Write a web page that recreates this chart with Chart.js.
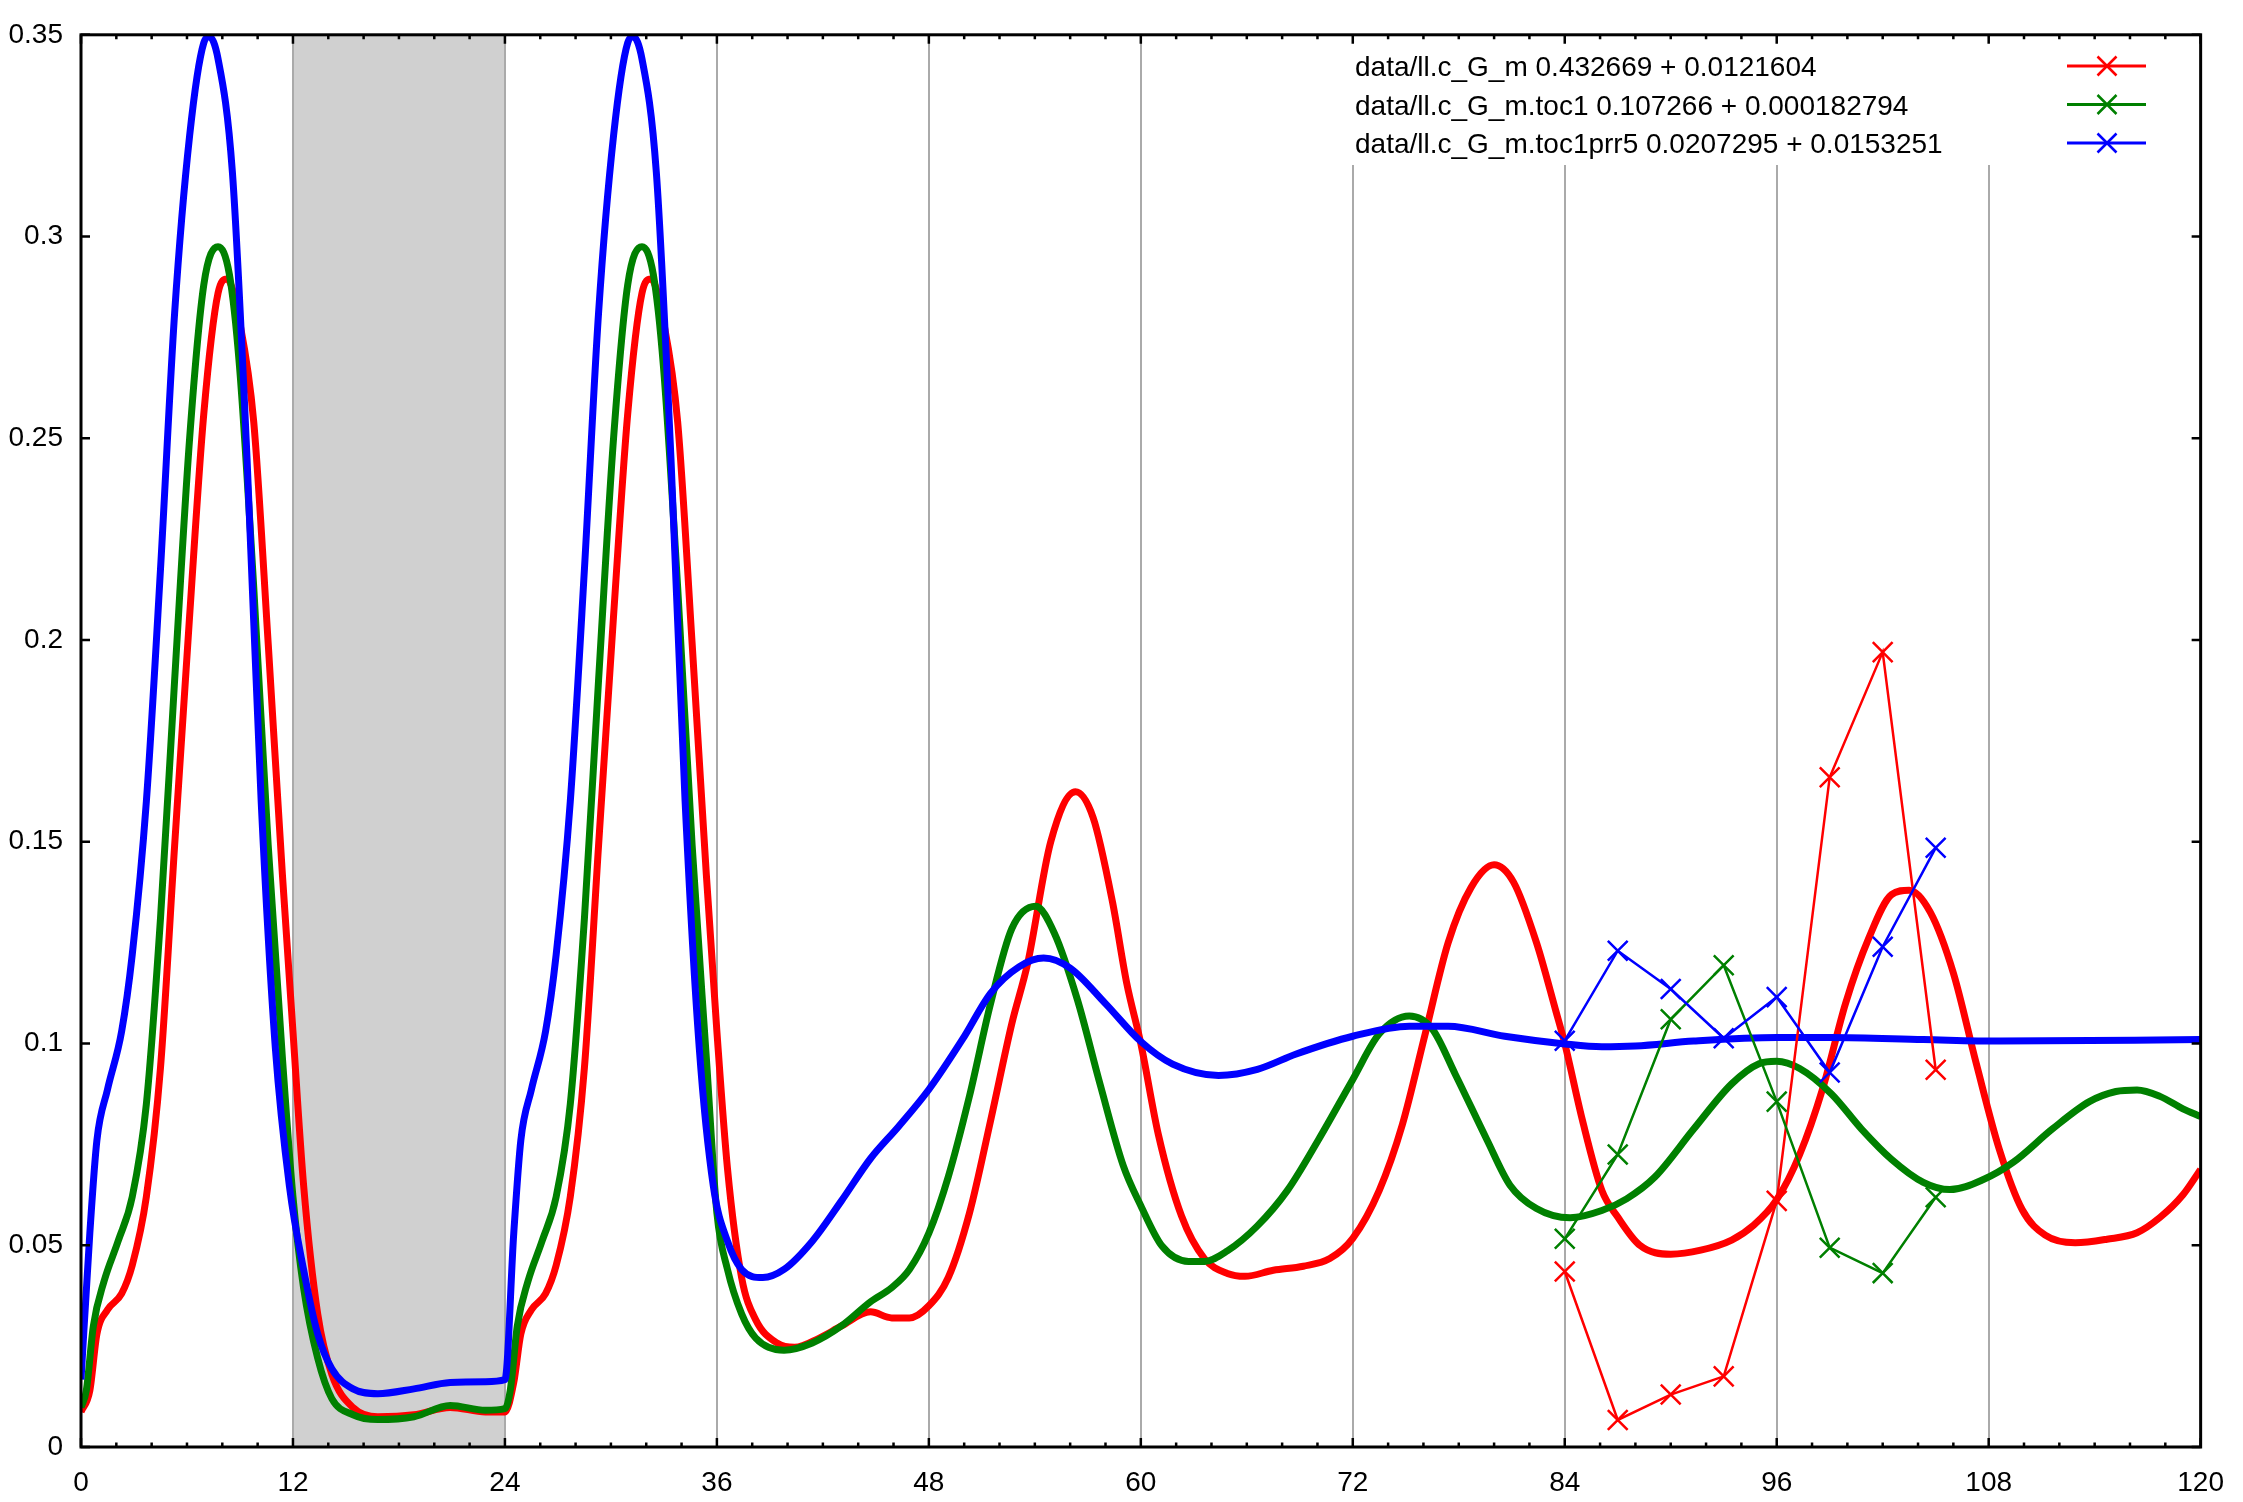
<!DOCTYPE html>
<html>
<head>
<meta charset="utf-8">
<script src="https://cdn.jsdelivr.net/npm/chart.js@4"></script>
<style>
  html, body { margin: 0; padding: 0; background: #fff; }
  #wrap { width: 2243px; height: 1502px; }
</style>
</head>
<body>
<div id="wrap"><canvas id="chart" width="2243" height="1502"></canvas></div>
<script>
// ---------- Data ----------
const redX = [0, 0.5, 0.9, 1.5, 2.3, 2.9, 3.7, 4.5, 5.3, 6.15, 6.95, 7.76, 8.27, 8.97, 9.78, 10.6, 11.4, 12, 12.6, 13.4, 14.2, 15.4, 16.8, 18.85, 20.9, 22.9, 24,
  24.5, 24.9, 25.5, 26.3, 26.9, 27.7, 28.5, 29.3, 30.15, 30.95, 31.76, 32.27, 32.97, 33.78, 34.6, 35.4, 36, 36.6, 37.4, 38.2, 39.4, 40.4, 41.8, 43.05, 44.7, 45.9, 46.9,
  48, 49.1, 50.3, 51.5, 52.7, 53.6, 54.9, 56.3, 57.3, 58.4, 59.2, 60, 61, 62.3, 63.6, 64.9, 65.9, 67.5, 69.2, 70.7, 72, 73.5, 74.8, 76.1, 77.4, 78.7, 80, 81.1, 82.4,
  83.5, 84, 85, 86.1, 87, 88.25, 90, 91.7, 93.45, 94.7, 96, 97.3, 98.6, 99.9, 101.2, 102.5, 103.5, 104.7, 106, 107.3, 108.6, 109.9, 111.2, 112.9, 114.7, 116.4,
  117.7, 119, 120];
const redY = [0.0087, 0.014, 0.028, 0.034, 0.038, 0.045, 0.062, 0.094, 0.149, 0.206, 0.256, 0.286, 0.2895, 0.279, 0.254, 0.199, 0.142, 0.103, 0.065, 0.033, 0.018, 0.0098, 0.0075, 0.008, 0.0098, 0.0087, 0.0087,
  0.016, 0.028, 0.034, 0.038, 0.045, 0.062, 0.094, 0.149, 0.206, 0.256, 0.286, 0.2895, 0.279, 0.254, 0.199, 0.142, 0.103, 0.069, 0.042, 0.0315, 0.0258, 0.0247, 0.027, 0.030, 0.0335, 0.032, 0.032,
  0.035, 0.042, 0.058, 0.081, 0.105, 0.120, 0.150, 0.1624, 0.156, 0.135, 0.115, 0.100, 0.0773, 0.0573, 0.0467, 0.043, 0.0423, 0.0438, 0.0448, 0.0467, 0.0517, 0.0636, 0.0798, 0.1024, 0.125, 0.1387, 0.1443, 0.140, 0.125,
  0.108, 0.100, 0.081, 0.0636, 0.057, 0.050, 0.0478, 0.0488, 0.0513, 0.055, 0.0613, 0.0725, 0.0888, 0.110, 0.126, 0.1369, 0.138, 0.1325, 0.1175, 0.095, 0.0738, 0.0588, 0.0525, 0.0506, 0.0515, 0.0531,
  0.0569, 0.0625, 0.0688];

const greenX = [0, 0.3, 0.7, 1.3, 2.1, 2.9, 3.7, 4.5, 5.3, 6.15, 6.95, 7.76, 8.4, 8.97, 9.78, 10.6, 11.4, 12, 12.6, 13.4, 14.2, 15.4, 16.8, 18.85, 20.9, 22.9, 24,
  24.3, 24.7, 25.3, 26.1, 26.9, 27.7, 28.5, 29.3, 30.15, 30.95, 31.76, 32.4, 32.97, 33.78, 34.6, 35.4, 36, 36.6, 37.4, 38.2, 39.8, 41.4, 43.05, 44.7, 45.9, 46.9,
  48, 49.1, 50.3, 51.5, 52.7, 54.05, 55.1, 56.4, 57.7, 59, 60, 61.2, 62.7, 63.6, 64.9, 66.6, 68.3, 70.05, 72, 73.5, 75.2, 76.5, 77.8, 79.6, 80.9, 82.4, 84.3,
  86.1, 87.5, 89.1, 91.3, 93.45, 95, 96, 97.3, 99.1, 100.8, 102.5, 104.3, 105.8, 107.7, 109.4, 111.6, 113.7, 115.2, 116.4, 117.7, 119, 120];
const greenY = [0.0098, 0.014, 0.030, 0.041, 0.051, 0.062, 0.085, 0.131, 0.190, 0.250, 0.288, 0.2975, 0.2906, 0.268, 0.213, 0.149, 0.0966, 0.062, 0.0395, 0.022, 0.012, 0.008, 0.0068, 0.0075, 0.0103, 0.0091, 0.0095,
  0.014, 0.030, 0.041, 0.051, 0.062, 0.085, 0.131, 0.190, 0.250, 0.288, 0.2975, 0.2906, 0.268, 0.213, 0.149, 0.0966, 0.058, 0.044, 0.033, 0.027, 0.024, 0.0258, 0.030, 0.036, 0.0395, 0.044,
  0.053, 0.067, 0.087, 0.110, 0.1285, 0.134, 0.1274, 0.111, 0.0898, 0.0698, 0.0598, 0.0498, 0.046, 0.046, 0.0486, 0.0548, 0.0636, 0.0761, 0.0911, 0.1024, 0.1068, 0.1036, 0.0924, 0.0761, 0.0649, 0.0591, 0.0568,
  0.0586, 0.0615, 0.0669, 0.0788, 0.090, 0.095, 0.0956, 0.0938, 0.0875, 0.0788, 0.0713, 0.0656, 0.0638, 0.0663, 0.0706, 0.0788, 0.0856, 0.0881, 0.0885, 0.0869, 0.0838, 0.0819];

const blueX = [0, 0.5, 0.9, 1.5, 2.3, 2.9, 3.7, 4.5, 5.3, 6.15, 6.95, 7.26, 7.76, 8.57, 9.4, 10.2, 11, 11.8, 12.6, 13.4, 14.2, 15.4, 16.8, 18.85, 20.9, 22.9, 24,
  24.5, 24.9, 25.5, 26.3, 26.9, 27.7, 28.5, 29.3, 30.15, 30.95, 31.26, 31.76, 32.57, 33.4, 34.2, 35, 35.8, 36.6, 37.4, 38.6, 39.8, 41.4, 43.05, 44.7, 46.3,
  48, 49.9, 51.5, 53.1, 54.5, 56, 58, 60, 61.8, 64.4, 66.6, 68.8, 72, 75.2, 77.4, 80.6, 84, 86.1, 88, 91.3, 96, 99.1, 104.3, 108.6, 120];
const blueY = [0.0167, 0.053, 0.076, 0.0886, 0.103, 0.122, 0.160, 0.2175, 0.281, 0.325, 0.348, 0.3495, 0.344, 0.316, 0.245, 0.160, 0.099, 0.0646, 0.044, 0.028, 0.0194, 0.0144, 0.0132, 0.0144, 0.016, 0.0162, 0.0167,
  0.053, 0.076, 0.0886, 0.103, 0.122, 0.160, 0.2175, 0.281, 0.325, 0.348, 0.3495, 0.344, 0.316, 0.245, 0.160, 0.099, 0.0646, 0.051, 0.044, 0.042, 0.044, 0.051, 0.061, 0.0715, 0.0795,
  0.0886, 0.101, 0.1125, 0.119, 0.1212, 0.1187, 0.1099, 0.1005, 0.0949, 0.0921, 0.0936, 0.0974, 0.1018, 0.1043, 0.1043, 0.1018, 0.0999, 0.0992, 0.0994, 0.1006, 0.1015, 0.1015, 0.101, 0.1006, 0.101];

// points with markers (thin lines)
const sampleX = [84, 87, 90, 93, 96, 99, 102, 105];
const redPts = [0.0435, 0.0067, 0.013, 0.0175, 0.061, 0.166, 0.197, 0.0935];
const greenPts = [0.0516, 0.0725, 0.106, 0.1194, 0.0856, 0.0494, 0.0431, 0.0619];
const bluePts = [0.1007, 0.123, 0.1135, 0.1013, 0.1115, 0.0928, 0.124, 0.1485];

const legendLabels = [
  "data/ll.c_G_m 0.432669 + 0.0121604",
  "data/ll.c_G_m.toc1 0.107266 + 0.000182794",
  "data/ll.c_G_m.toc1prr5 0.0207295 + 0.0153251"
];
const colors = ["#ff0000", "#008000", "#0000ff"];
const nightBand = [12, 24];
const gridHours = [12, 24, 36, 48, 60, 72, 84, 96, 108];

// ---------- Helpers ----------
const FONT = '"Liberation Sans", Arial, sans-serif';
const pts = (xs, ys) => xs.map((x, i) => ({ x, y: ys[i] }));

const thick = (label, xs, ys, color, order) => ({
  label, data: pts(xs, ys), borderColor: color, borderWidth: 7,
  pointRadius: 0, cubicInterpolationMode: "monotone", fill: false, order
});
const thin = (label, ys, color, order) => ({
  label, data: pts(sampleX, ys), borderColor: color, borderWidth: 2.5,
  pointStyle: "crossRot", pointRadius: 14, pointBorderWidth: 2.5,
  pointBorderColor: color, tension: 0, fill: false, order
});

// ---------- Plugin: band, frame, ticks, key ----------
const frame = {
  id: "frame",
  beforeDraw(chart) {
    const { ctx, chartArea: a, scales: { x } } = chart;
    ctx.save();
    ctx.fillStyle = "#fff";
    ctx.fillRect(0, 0, chart.width, chart.height);
    ctx.fillStyle = "#d0d0d0";
    const x0 = x.getPixelForValue(nightBand[0]), x1 = x.getPixelForValue(nightBand[1]);
    ctx.fillRect(x0, a.top, x1 - x0, a.bottom - a.top);
    ctx.restore();
  },
  afterDatasetsDraw(chart) {
    const { ctx, chartArea: a, scales: { x, y } } = chart;
    ctx.save();
    // key box
    ctx.fillStyle = "#fff";
    ctx.fillRect(1343, 43, 822, 122);
    ctx.font = `28px ${FONT}`;
    ctx.textBaseline = "alphabetic";
    ctx.textAlign = "left";
    legendLabels.forEach((t, i) => {
      const by = 76 + i * 38.5;
      ctx.fillStyle = "#000";
      ctx.fillText(t, 1355, by);
      const cy = by - 10;
      ctx.strokeStyle = colors[i];
      ctx.lineWidth = 3;
      ctx.beginPath(); ctx.moveTo(2067, cy); ctx.lineTo(2146, cy); ctx.stroke();
      ctx.lineWidth = 2.5;
      const r = 9.5;
      ctx.beginPath();
      ctx.moveTo(2107 - r, cy - r); ctx.lineTo(2107 + r, cy + r);
      ctx.moveTo(2107 + r, cy - r); ctx.lineTo(2107 - r, cy + r);
      ctx.stroke();
    });

    // tick marks
    ctx.strokeStyle = "#000";
    ctx.lineWidth = 2.5;
    ctx.beginPath();
    for (let v = 0; v <= 120; v += 2) {
      const px = x.getPixelForValue(v);
      const len = v % 12 === 0 ? 9 : 4.5;
      ctx.moveTo(px, a.bottom); ctx.lineTo(px, a.bottom - len);
      ctx.moveTo(px, a.top); ctx.lineTo(px, a.top + len);
    }
    y.ticks.forEach(t => {
      const py = y.getPixelForValue(t.value);
      ctx.moveTo(a.left, py); ctx.lineTo(a.left + 9, py);
      ctx.moveTo(a.right, py); ctx.lineTo(a.right - 9, py);
    });
    ctx.stroke();

    // frame
    ctx.lineWidth = 3;
    ctx.strokeRect(a.left, a.top, a.right - a.left, a.bottom - a.top);
    ctx.restore();
  }
};

// ---------- Chart ----------
new Chart(document.getElementById("chart"), {
  type: "line",
  data: {
    datasets: [
      thick(legendLabels[0], redX, redY, colors[0], 6),
      thick(legendLabels[1], greenX, greenY, colors[1], 5),
      thick(legendLabels[2], blueX, blueY, colors[2], 4),
      thin(legendLabels[0] + " pts", redPts, colors[0], 3),
      thin(legendLabels[1] + " pts", greenPts, colors[1], 2),
      thin(legendLabels[2] + " pts", bluePts, colors[2], 1)
    ]
  },
  options: {
    responsive: false,
    animation: false,
    devicePixelRatio: 1,
    layout: { padding: { top: 20, right: 39, left: 0, bottom: 0 } },
    plugins: { legend: { display: false }, tooltip: { enabled: false } },
    scales: {
      x: {
        type: "linear", min: 0, max: 120,
        border: { display: false },
        grid: {
          drawTicks: false, lineWidth: 2,
          color: c => gridHours.includes(c.tick.value) ? "#aaaaaa" : "rgba(0,0,0,0)"
        },
        ticks: {
          stepSize: 12, autoSkip: false, maxRotation: 0, padding: 19,
          color: "#000", font: { family: FONT, size: 28 }
        },
        afterFit: s => { s.height = 55; }
      },
      y: {
        min: 0, max: 0.35,
        border: { display: false },
        grid: { display: false, drawTicks: false },
        ticks: {
          stepSize: 0.05, padding: 18, color: "#000",
          font: { family: FONT, size: 28 },
          callback: v => String(+v.toFixed(2))
        },
        afterFit: s => { s.width = 81; }
      }
    }
  },
  plugins: [frame]
});
</script>
</body>
</html>
